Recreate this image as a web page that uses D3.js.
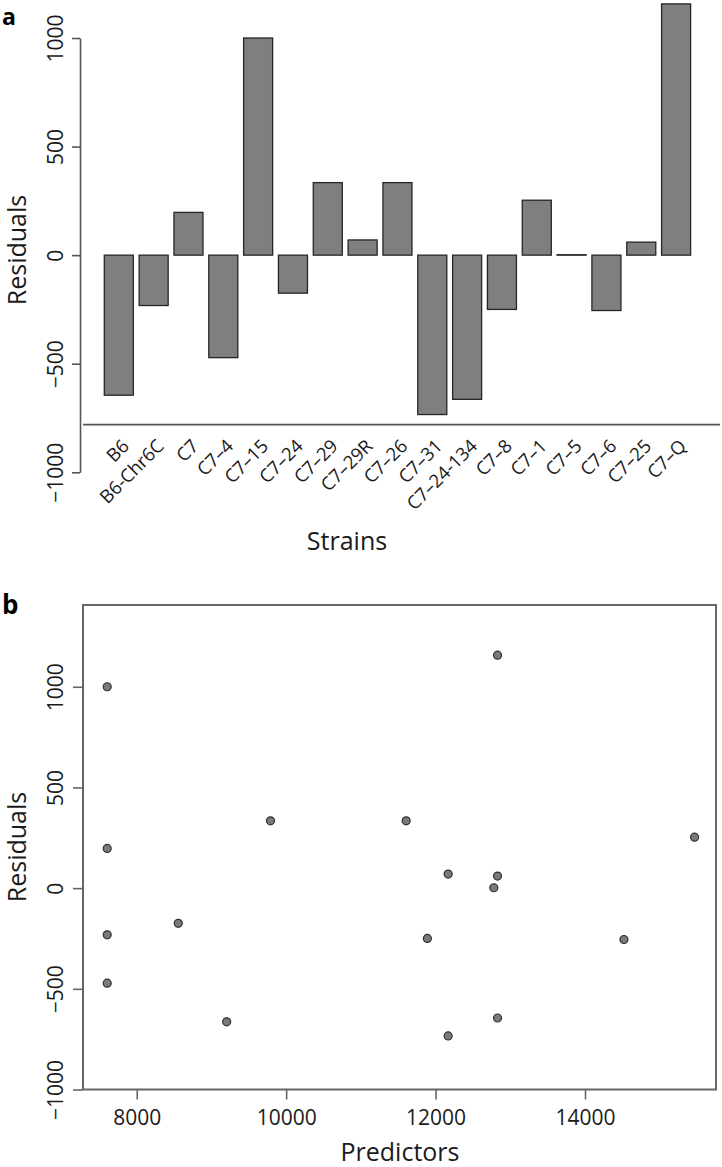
<!DOCTYPE html>
<html>
<head>
<meta charset="utf-8">
<script src="https://cdn.jsdelivr.net/npm/d3@7"></script>
<style>
  html, body { margin: 0; padding: 0; background: #fff; }
  svg { display: block; font-family: "Open Sans", "Noto Sans", sans-serif; }
</style>
</head>
<body>
<svg id="chart" width="722" height="1167"></svg>
<script>
// ---- data ----
const strains = ["B6", "B6-Chr6C", "C7", "C7–4", "C7–15", "C7–24", "C7–29", "C7–29R", "C7–26",
                 "C7–31", "C7–24-134", "C7–8", "C7–1", "C7–5", "C7–6", "C7–25", "C7–Q"];
const residuals = [-645, -232, 197, -472, 1000, -175, 334, 70, 334,
                   -734, -664, -250, 253, 2, -255, 60, 1157];
const predictors = [12829, 7605, 7605, 7605, 7605, 8556, 9790, 12168, 11606,
                    12168, 9204, 11890, 15466, 12779, 14521, 12829, 12829];
const residualTicks = [-1000, -500, 0, 500, 1000];
const predictorTicks = [8000, 10000, 12000, 14000];
const baselineValue = -780; // horizontal reference line under bars in panel a

const svg = d3.select("#chart");
const axisColor = "#555";
const textColor = "#1a1a1a";

// ================= Panel a: bar chart =================
const ya = d3.scaleLinear().domain([-1000, 1000]).range([472.3, 38]);
const xa = d3.scaleBand().domain(strains).range([104.3, 690.6])
  .paddingInner(1 / 6).paddingOuter(0);

const ga = svg.append("g");

// bars
ga.selectAll("rect.bar").data(strains).join("rect")
  .attr("class", "bar")
  .attr("x", d => xa(d))
  .attr("width", xa.bandwidth())
  .attr("y", (d, i) => Math.min(ya(0), ya(residuals[i])))
  .attr("height", (d, i) => Math.abs(ya(residuals[i]) - ya(0)))
  .attr("fill", "#7f7f7f")
  .attr("stroke", "#262626")
  .attr("stroke-width", 1.3);

// left axis
const axA = ga.append("g").attr("transform", "translate(80,0)")
  .call(d3.axisLeft(ya).tickValues(residualTicks).tickSize(8).tickSizeOuter(0)
        .tickFormat(d => d < 0 ? "−" + Math.abs(d) : String(d)));
axA.select(".domain").attr("stroke", axisColor).attr("stroke-width", 1.6);
axA.selectAll(".tick line").attr("stroke", axisColor).attr("stroke-width", 1.6);
axA.selectAll(".tick text")
  .attr("x", 0).attr("dy", 0)
  .attr("transform", "translate(-17,0) rotate(-90)")
  .attr("text-anchor", "middle")
  .attr("font-size", 21).attr("fill", textColor)
  .style("font-family", "'Open Sans', sans-serif");

// horizontal reference line
ga.append("line")
  .attr("x1", 83).attr("x2", 720)
  .attr("y1", ya(baselineValue)).attr("y2", ya(baselineValue))
  .attr("stroke", axisColor).attr("stroke-width", 1.8);

// strain labels
ga.selectAll("text.strain").data(strains).join("text")
  .attr("class", "strain")
  .attr("transform", d => `translate(${xa(d) + xa.bandwidth() / 2 + 6},442) rotate(-45)`)
  .attr("text-anchor", "end")
  .attr("dominant-baseline", "central")
  .attr("font-size", 18.5)
  .attr("fill", textColor)
  .text(d => d);

// axis titles
ga.append("text")
  .attr("transform", "translate(26,250) rotate(-90)")
  .attr("text-anchor", "middle").attr("font-size", 25).attr("fill", textColor)
  .text("Residuals");
ga.append("text")
  .attr("x", 347).attr("y", 550)
  .attr("text-anchor", "middle").attr("font-size", 25).attr("fill", textColor)
  .text("Strains");

// panel letter
svg.append("text").attr("x", 2).attr("y", 24.5)
  .attr("font-size", 23).attr("font-weight", "bold").attr("fill", "#000")
  .text("a");

// ================= Panel b: scatter =================
const yb = d3.scaleLinear().domain([-1000, 1406]).range([1089.5, 605]);
const xb = d3.scaleLinear().domain([7281, 15753]).range([83, 716]);

const gb = svg.append("g");

// box
gb.append("rect")
  .attr("x", 83).attr("y", 605).attr("width", 716 - 83).attr("height", 1089.5 - 605)
  .attr("fill", "none").attr("stroke", "#666").attr("stroke-width", 2);

const axBL = gb.append("g").attr("transform", "translate(83,0)")
  .call(d3.axisLeft(yb).tickValues(residualTicks).tickSize(10).tickSizeOuter(0)
        .tickFormat(d => d < 0 ? "−" + Math.abs(d) : String(d)));
axBL.select(".domain").remove();
axBL.selectAll(".tick line").attr("stroke", "#666").attr("stroke-width", 1.6);
axBL.selectAll(".tick text")
  .attr("x", 0).attr("dy", 0)
  .attr("transform", "translate(-20,0) rotate(-90)")
  .attr("text-anchor", "middle")
  .attr("font-size", 21).attr("fill", textColor)
  .style("font-family", "'Open Sans', sans-serif");

const axBB = gb.append("g").attr("transform", "translate(0,1089.5)")
  .call(d3.axisBottom(xb).tickValues(predictorTicks).tickSize(10).tickSizeOuter(0)
        .tickFormat(d => String(d)));
axBB.select(".domain").remove();
axBB.selectAll(".tick line").attr("stroke", "#666").attr("stroke-width", 1.6);
axBB.selectAll(".tick text")
  .attr("y", 35.5).attr("dy", 0)
  .attr("font-size", 21).attr("fill", textColor)
  .style("font-family", "'Open Sans', sans-serif");

// points
gb.selectAll("circle.pt").data(predictors).join("circle")
  .attr("class", "pt")
  .attr("cx", d => xb(d))
  .attr("cy", (d, i) => yb(residuals[i]))
  .attr("r", 4)
  .attr("fill", "#7a7a7a")
  .attr("stroke", "#303030")
  .attr("stroke-width", 1.2);

// titles
gb.append("text")
  .attr("transform", "translate(26,847) rotate(-90)")
  .attr("text-anchor", "middle").attr("font-size", 25).attr("fill", textColor)
  .text("Residuals");
gb.append("text")
  .attr("x", 400).attr("y", 1161)
  .attr("text-anchor", "middle").attr("font-size", 25).attr("fill", textColor)
  .text("Predictors");

svg.append("text").attr("x", 2).attr("y", 614)
  .attr("font-size", 26).attr("font-weight", "bold").attr("fill", "#000")
  .text("b");
</script>
</body>
</html>
